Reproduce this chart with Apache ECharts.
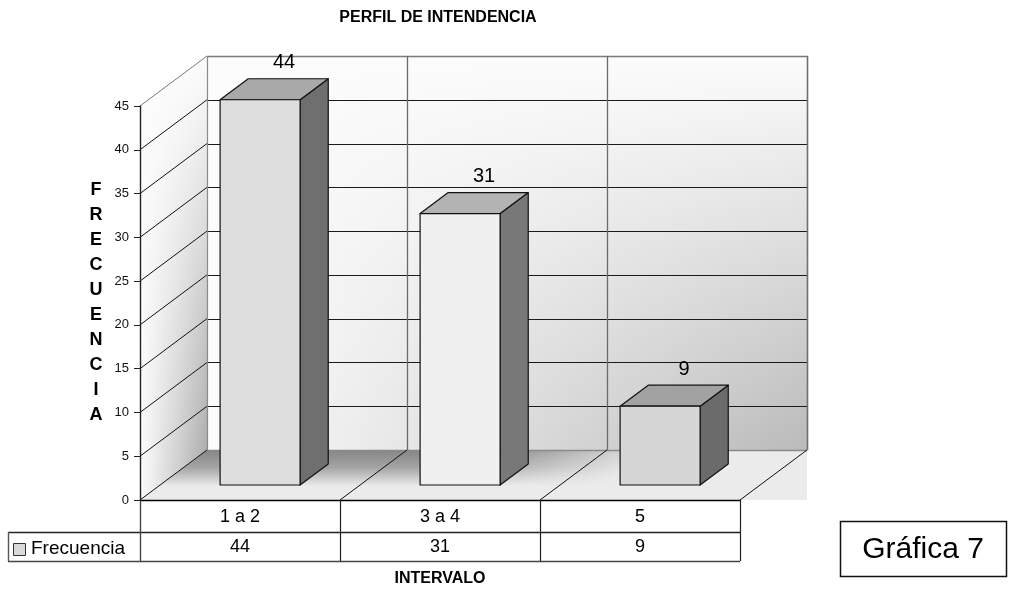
<!DOCTYPE html>
<html>
<head>
<meta charset="utf-8">
<title>Perfil de intendencia</title>
<script src="https://cdn.jsdelivr.net/npm/echarts@6/dist/echarts.min.js"></script>
<style>
  html, body { margin: 0; padding: 0; background: #ffffff; }
  #chart { width: 1022px; height: 590px; }
</style>
</head>
<body>
<div id="chart"></div>
<script>
// ---- data ----
const categories = ['1 a 2', '3 a 4', '5'];
const frecuencia = [44, 31, 9];
const seriesName = 'Frecuencia';
const yMin = 0;
const yMax = 45;
const yStep = 5;
const chartTitle = 'PERFIL DE INTENDENCIA';
const xAxisTitle = 'INTERVALO';
const yAxisTitle = 'FRECUENCIA';
const badgeText = 'Gráfica 7';

// ---- look ----
const FONT = "'Liberation Sans', Arial, Helvetica, sans-serif";
const DEPTH_X = 67, DEPTH_Y = -50;        // offset from front plane to back wall
const BAR_D0 = 0.3, BAR_D1 = 0.72;        // bar front / back as fraction of depth
const BAR_FRAC = 0.4;                     // bar width as fraction of category band
const BAR_FRONT = ['#dedede', '#f0f0f0', '#d6d6d6'];
const BAR_TOP = ['#a9a9a9', '#b3b3b3', '#a2a2a2'];
const BAR_SIDE = ['#6f6f6f', '#787878', '#6b6b6b'];
const WALL_LIGHT = '#fcfcfc';
const BACK_DARK = '#bababa';
const SIDE_DARK = '#adadad';
const FLOOR_LIGHT = '#ebebeb';
const FLOOR_DARK = '#868686';
const ROW1_H = 32, ROW2_H = 29;
const TABLE_LEFT = 8;

function hex2rgb(h) {
  return [parseInt(h.substr(1, 2), 16), parseInt(h.substr(3, 2), 16), parseInt(h.substr(5, 2), 16)];
}
function mix(a, b, t) {
  const A = hex2rgb(a), B = hex2rgb(b);
  const c = A.map((v, i) => Math.round(v + (B[i] - v) * t));
  return 'rgb(' + c.join(',') + ')';
}
function crisp(v) { return Math.round(v) + 0.5; }
function vGrad(stops) {
  return { type: 'linear', x: 0, y: 0, x2: 0, y2: 1, colorStops: stops };
}
function line(x1, y1, x2, y2, color, w) {
  return { type: 'line', shape: { x1, y1, x2, y2 }, style: { stroke: color, lineWidth: w || 1 }, silent: true };
}
function text(x, y, str, size, opts) {
  opts = opts || {};
  return {
    type: 'text', x, y, silent: true,
    style: {
      text: str, fill: '#000', align: opts.align || 'center', verticalAlign: 'middle',
      font: (opts.bold ? 'bold ' : '') + size + 'px ' + FONT
    }
  };
}

// walls, floor, grid and data table, all placed from the axis scales
function renderScene(params, api) {
  const c0 = api.coord([0, yMin]);
  const band = api.size([1, 0])[0];
  const n = categories.length;
  const xL = c0[0] - band / 2, xR = xL + band * n;
  const yBase = c0[1];
  const yTop = api.coord([0, yMax])[1];
  const bxL = xL + DEPTH_X, bxR = xR + DEPTH_X;
  const byBase = yBase + DEPTH_Y, byTop = yTop + DEPTH_Y;
  const out = [];

  // back wall: shading grows toward the lower right corner
  const NB = 90;
  for (let k = 0; k < NB; k++) {
    const u = (k + 0.5) / NB;
    const x0 = bxL + (bxR - bxL) * k / NB;
    const w = (bxR - bxL) / NB + 0.7;
    out.push({
      type: 'rect', silent: true,
      shape: { x: x0, y: byTop, width: w, height: byBase - byTop },
      style: { fill: vGrad([{ offset: 0, color: WALL_LIGHT }, { offset: 1, color: mix(WALL_LIGHT, BACK_DARK, u) }]) }
    });
  }
  // side wall
  const NS = 30;
  for (let k = 0; k < NS; k++) {
    const u0 = k / NS, u1 = (k + 1) / NS + 0.01, u = (k + 0.5) / NS;
    const xa = xL + DEPTH_X * u0, xb = xL + DEPTH_X * u1;
    out.push({
      type: 'polygon', silent: true,
      shape: { points: [[xa, yTop + DEPTH_Y * u0], [xb, yTop + DEPTH_Y * u1], [xb, yBase + DEPTH_Y * u1], [xa, yBase + DEPTH_Y * u0]] },
      style: { fill: vGrad([{ offset: 0, color: WALL_LIGHT }, { offset: 1, color: mix(WALL_LIGHT, SIDE_DARK, u) }]) }
    });
  }
  // floor: dark toward the back left, light toward the front and right
  out.push({
    type: 'polygon', silent: true,
    shape: { points: [[xR, yBase], [bxR, byBase], [bxR, yBase]] },
    style: { fill: FLOOR_LIGHT }
  });
  const NF = 90;
  for (let k = 0; k < NF; k++) {
    const u0 = k / NF, u1 = (k + 1) / NF + 0.004, u = (k + 0.5) / NF;
    const f = Math.max(0, Math.min(1, (0.76 - u) / 0.28));
    const fa = xL + (xR - xL) * u0, fb = xL + (xR - xL) * u1;
    out.push({
      type: 'polygon', silent: true,
      shape: { points: [[fa, yBase], [fb, yBase], [fb + DEPTH_X, byBase], [fa + DEPTH_X, byBase]] },
      style: {
        fill: vGrad([
          { offset: 0, color: mix(FLOOR_LIGHT, FLOOR_DARK, f) },
          { offset: 0.35, color: mix(FLOOR_LIGHT, FLOOR_DARK, f * 0.7) },
          { offset: 0.72, color: FLOOR_LIGHT },
          { offset: 1, color: FLOOR_LIGHT }
        ])
      }
    });
  }

  // gridlines on the back wall and the side wall
  for (let v = yMin; v <= yMax; v += yStep) {
    const y = api.coord([0, v])[1];
    out.push(line(xL, y, bxL, y + DEPTH_Y, v === yMax ? '#7a7a7a' : '#111', 1));
    if (v !== yMin && v !== yMax) out.push(line(bxL, crisp(y + DEPTH_Y), bxR, crisp(y + DEPTH_Y), '#1a1a1a', 1));
  }
  out.push(line(bxL, crisp(byTop), bxR + 1, crisp(byTop), '#7a7a7a', 1.6));
  out.push(line(bxL, crisp(byBase), bxR, crisp(byBase), '#8a8a8a', 1.3));
  out.push(line(crisp(bxL), byTop, crisp(bxL), byBase, '#8a8a8a', 1.2));
  out.push(line(crisp(bxR), byTop, crisp(bxR), byBase, '#6f6f6f', 1.6));
  for (let i = 1; i < n; i++) {
    const x = crisp(bxL + band * i);
    out.push(line(x, byTop, x, byBase, '#6a6a6a', 1.3));
  }
  for (let i = 1; i <= n; i++) {
    out.push(line(xL + band * i, yBase, bxL + band * i, byBase, '#111', 1));
  }

  // data table under the floor
  const r1 = yBase + ROW1_H, r2 = r1 + ROW2_H;
  out.push(line(xL, crisp(yBase), xR, crisp(yBase), '#000', 1.4));
  out.push(line(TABLE_LEFT, crisp(r1), xR, crisp(r1), '#222', 1.4));
  out.push(line(TABLE_LEFT, crisp(r2), xR, crisp(r2), '#444', 1.6));
  out.push(line(crisp(TABLE_LEFT), r1, crisp(TABLE_LEFT), r2, '#555', 1.4));
  out.push(line(crisp(xL), yBase, crisp(xL), r2, '#444', 1.4));
  for (let i = 1; i <= n; i++) {
    const x = crisp(xL + band * i);
    out.push(line(x, yBase, x, r2, '#222', 1.2));
  }
  categories.forEach((c, i) => {
    const cx = xL + band * (i + 0.5);
    out.push(text(cx, yBase + ROW1_H / 2 + 1, c, 18));
    out.push(text(cx, r1 + ROW2_H / 2 + 1, String(frecuencia[i]), 18));
  });
  // legend key inside the table
  out.push({
    type: 'rect', silent: true,
    shape: { x: TABLE_LEFT + 5.5, y: r1 + 11.5, width: 12, height: 12 },
    style: { fill: '#d9d9d9', stroke: '#333', lineWidth: 1 }
  });
  out.push(text(TABLE_LEFT + 23, r1 + ROW2_H / 2 + 2, seriesName, 19, { align: 'left' }));

  return { type: 'group', children: out };
}

// one 3D column per category
function renderBar(params, api) {
  const i = api.value(0), v = api.value(1);
  const c = api.coord([i, v]);
  const b = api.coord([i, yMin]);
  const band = api.size([1, 0])[0];
  const half = band * BAR_FRAC / 2;
  const fx = DEPTH_X * BAR_D0, fy = DEPTH_Y * BAR_D0;
  const dx = DEPTH_X * (BAR_D1 - BAR_D0), dy = DEPTH_Y * (BAR_D1 - BAR_D0);
  const xl = c[0] + fx - half, xr = c[0] + fx + half;
  const yt = c[1] + fy, yb = b[1] + fy;
  const stroke = { stroke: '#111', lineWidth: 1.2, lineJoin: 'round' };
  return {
    type: 'group',
    children: [
      { type: 'polygon', shape: { points: [[xr, yt], [xr + dx, yt + dy], [xr + dx, yb + dy], [xr, yb]] },
        style: Object.assign({ fill: BAR_SIDE[i] }, stroke) },
      { type: 'polygon', shape: { points: [[xl, yt], [xr, yt], [xr + dx, yt + dy], [xl + dx, yt + dy]] },
        style: Object.assign({ fill: BAR_TOP[i] }, stroke) },
      { type: 'rect', shape: { x: xl, y: yt, width: xr - xl, height: yb - yt },
        style: Object.assign({ fill: BAR_FRONT[i] }, stroke) },
      text(c[0] + fx + dx * 0.85, yt + dy - 16, String(v), 20)
    ]
  };
}

const chart = echarts.init(document.getElementById('chart'), null, { renderer: 'canvas' });
chart.setOption({
  animation: false,
  backgroundColor: '#ffffff',
  grid: { left: 140, top: 106, width: 600, height: 394 },
  xAxis: {
    type: 'category', data: categories,
    axisLine: { show: false }, axisTick: { show: false }, axisLabel: { show: false }, splitLine: { show: false }
  },
  yAxis: {
    type: 'value', min: yMin, max: yMax, interval: yStep, z: 10,
    axisLine: { show: true, lineStyle: { color: '#222', width: 1.4 } },
    axisTick: { show: true, length: 6, lineStyle: { color: '#222' } },
    axisLabel: { margin: 11, fontSize: 13, color: '#111', fontFamily: FONT },
    splitLine: { show: false }
  },
  graphic: [
    { type: 'text', x: 438, y: 18,
      style: { text: chartTitle, font: 'bold 16px ' + FONT, fill: '#000', align: 'center', verticalAlign: 'middle' } },
    { type: 'text', x: 440, y: 579,
      style: { text: xAxisTitle, font: 'bold 16px ' + FONT, fill: '#000', align: 'center', verticalAlign: 'middle' } },
    { type: 'text', x: 96, y: 303,
      style: { text: yAxisTitle.split('').join('\n'), font: 'bold 18px ' + FONT, lineHeight: 25,
               fill: '#000', align: 'center', verticalAlign: 'middle' } },
    { type: 'rect', shape: { x: 840.5, y: 521.5, width: 166, height: 55 },
      style: { fill: '#fff', stroke: '#111', lineWidth: 1.5 } },
    { type: 'text', x: 923, y: 550,
      style: { text: badgeText, font: '30px ' + FONT, fill: '#000', align: 'center', verticalAlign: 'middle' } }
  ],
  series: [
    { type: 'custom', name: 'escena', renderItem: renderScene, data: [[0, 0]], z: 1, silent: true },
    { type: 'custom', name: seriesName, renderItem: renderBar, z: 5,
      data: frecuencia.map((v, i) => [i, v]) }
  ]
});
</script>
</body>
</html>
